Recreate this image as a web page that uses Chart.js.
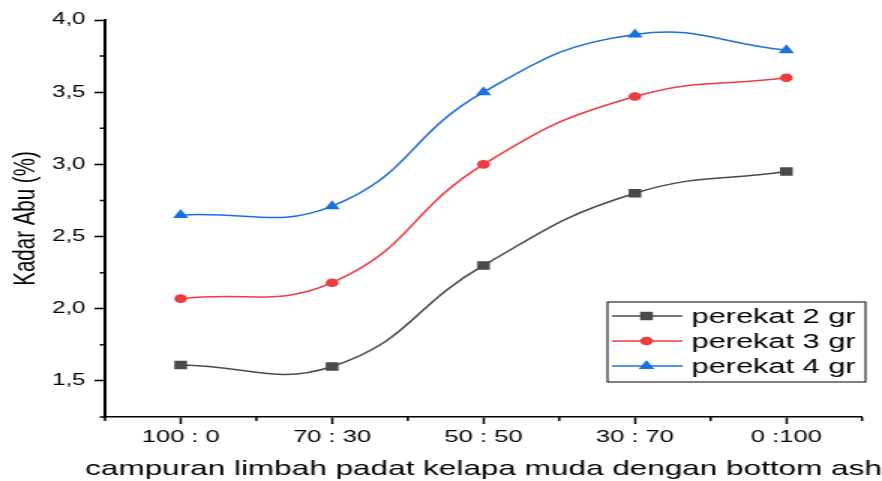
<!DOCTYPE html>
<html>
<head>
<meta charset="utf-8">
<script src="https://cdn.jsdelivr.net/npm/chart.js@4.4.1/dist/chart.umd.min.js"></script>
<style>
    html, body { margin: 0; padding: 0; background: #fff; overflow: hidden; }
    /* 原图是横向拉伸过的，这里整体按 1.5 倍横向拉伸 */
    #wrap { width: 588px; height: 481px; transform: scaleX(1.5); transform-origin: 0 0; }
</style>
</head>
<body>
<div id="wrap"><canvas id="chart" width="588" height="481"></canvas></div>
<script>
// 横轴类别
const LABELS = ['100 : 0', '70 : 30', '50 : 50', '30 : 70', '0 :100'];

// 各系列数值 (Kadar Abu %)
const PEREKAT_2 = [1.61, 1.60, 2.30, 2.80, 2.95];
const PEREKAT_3 = [2.07, 2.18, 3.00, 3.47, 3.60];
const PEREKAT_4 = [2.65, 2.71, 3.50, 3.90, 3.79];
const SERIES_NAMES = ['perekat 2 gr', 'perekat 3 gr', 'perekat 4 gr'];

// 纵轴刻度
const Y_TICKS = [1.5, 2.0, 2.5, 3.0, 3.5, 4.0];
const Y_MIN = 1.25;
const Y_MAX = 4.0;

const X_TITLE = 'campuran limbah padat kelapa muda dengan bottom ash';
const FONT = '"Liberation Sans", Arial, sans-serif';

// 次刻度线 + 横轴标题（标题比轴还宽，Chart.js 自带标题会被压缩）
const axisExtras = {
    id: 'axisExtras',
    afterDraw(chart) {
        const { ctx, scales: { x, y } } = chart;
        ctx.save();
        ctx.strokeStyle = '#000';
        ctx.lineWidth = 1.5;
        ctx.beginPath();
        for (let i = -0.5; i < LABELS.length; i++) {
            const px = x.getPixelForValue(i);
            ctx.moveTo(px, x.top);
            ctx.lineTo(px, x.top + 4);
        }
        Y_TICKS.forEach(v => {
            const py = y.getPixelForValue(v - 0.25);
            ctx.moveTo(y.right, py);
            ctx.lineTo(y.right - 3.5, py);
        });
        ctx.stroke();

        ctx.fillStyle = '#000';
        ctx.font = '21px ' + FONT;
        ctx.textAlign = 'center';
        ctx.textBaseline = 'alphabetic';
        ctx.fillText(X_TITLE, (x.left + x.right) / 2, 475);
        ctx.restore();
    }
};

// 图例放在右下角的方框里
const boxLegend = {
    id: 'boxLegend',
    afterDraw(chart) {
        const ctx = chart.ctx;
        const left = 405, top = 302, w = 172, h = 80;
        ctx.save();
        ctx.fillStyle = '#fff';
        ctx.fillRect(left, top, w, h);
        ctx.strokeStyle = '#000';
        ctx.lineWidth = 1;
        ctx.strokeRect(left, top, w, h);
        ctx.font = '20.5px ' + FONT;
        ctx.textBaseline = 'middle';
        chart.data.datasets.forEach((ds, i) => {
            const cy = top + 14 + i * 25;
            ctx.strokeStyle = ds.borderColor;
            ctx.lineWidth = ds.borderWidth;
            ctx.beginPath();
            ctx.moveTo(left + 3, cy);
            ctx.lineTo(left + 50, cy);
            ctx.stroke();
            ctx.fillStyle = ds.pointBackgroundColor;
            Chart.helpers.drawPoint(ctx, { pointStyle: ds.pointStyle, radius: ds.pointRadius, borderWidth: 0 }, left + 26, cy);
            ctx.fillStyle = '#000';
            ctx.fillText(ds.label, left + 56, cy + 1);
        });
        ctx.restore();
    }
};

function makeSeries(label, data, color, style, radius) {
    return {
        label: label,
        data: data,
        borderColor: color,
        borderWidth: 1.5,
        tension: 0.45,
        pointStyle: style,
        pointRadius: radius,
        pointBackgroundColor: color,
        pointBorderColor: color,
        pointBorderWidth: 0
    };
}

const ctx = document.getElementById('chart').getContext('2d');
new Chart(ctx, {
    type: 'line',
    data: {
        labels: LABELS,
        datasets: [
            makeSeries(SERIES_NAMES[0], PEREKAT_2, '#4a4a4a', 'rect', 6),
            makeSeries(SERIES_NAMES[1], PEREKAT_3, '#ef3b3e', 'circle', 4.3),
            makeSeries(SERIES_NAMES[2], PEREKAT_4, '#1c6fe0', 'triangle', 6)
        ]
    },
    options: {
        responsive: false,
        animation: false,
        events: [],
        layout: { padding: { top: 20, right: 13.3, left: 0, bottom: 0 } },
        plugins: {
            legend: { display: false },
            tooltip: { enabled: false }
        },
        scales: {
            x: {
                offset: true,
                afterFit: s => { s.height = 64; },
                border: { display: true, color: '#000', width: 1.5 },
                grid: { display: true, drawOnChartArea: false, drawTicks: true, tickLength: 7, color: '#000', tickWidth: 1.5 },
                ticks: { color: '#000', padding: 3, maxRotation: 0, autoSkip: false, font: { family: FONT, size: 17 } }
            },
            y: {
                min: Y_MIN,
                max: Y_MAX,
                afterFit: s => { s.width = 70; },
                afterBuildTicks: s => { s.ticks = Y_TICKS.map(v => ({ value: v })); },
                border: { display: true, color: '#000', width: 2 },
                grid: { display: true, drawOnChartArea: false, drawTicks: true, tickLength: 7, color: '#000', tickWidth: 1.5 },
                ticks: {
                    color: '#000',
                    padding: 6,
                    font: { family: FONT, size: 16 },
                    callback: v => v.toFixed(1).replace('.', ',')
                },
                title: {
                    display: true,
                    text: 'Kadar Abu (%)',
                    color: '#000',
                    padding: { top: 6.7, bottom: 0 },
                    font: { family: FONT, size: 20.5, lineHeight: 1 }
                }
            }
        }
    },
    plugins: [axisExtras, boxLegend]
});
</script>
</body>
</html>
